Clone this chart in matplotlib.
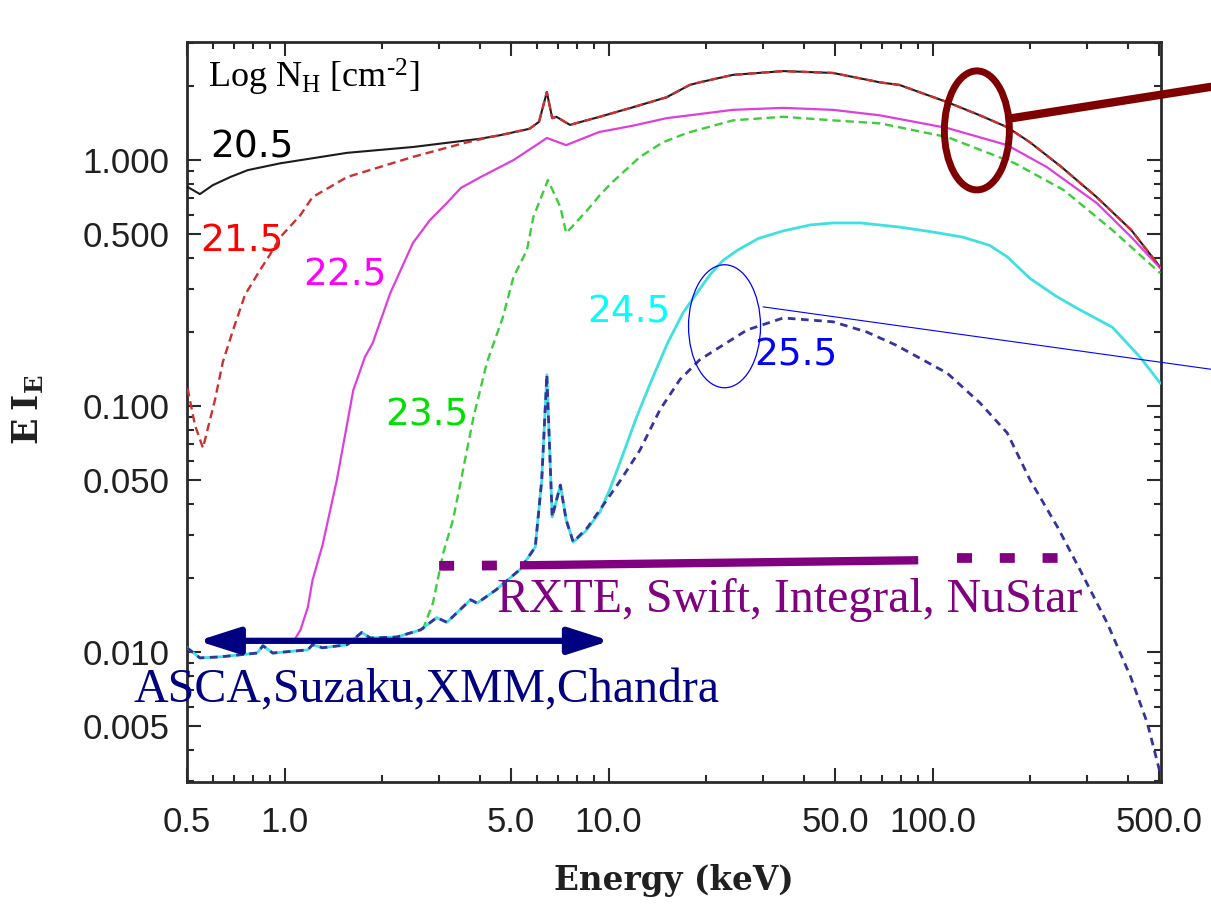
import matplotlib
matplotlib.use("Agg")
import matplotlib.pyplot as plt
from matplotlib.patches import Ellipse, ConnectionPatch
from matplotlib.transforms import ScaledTranslation
from matplotlib.ticker import FixedLocator, FixedFormatter, LogLocator, NullFormatter

plt.rcParams['mathtext.fontset'] = 'custom'
plt.rcParams['mathtext.rm'] = 'Liberation Serif'
plt.rcParams['mathtext.it'] = 'Liberation Serif:italic'
plt.rcParams['mathtext.bf'] = 'DejaVu Serif:bold'
plt.rcParams['lines.scale_dashes'] = False

# ---- model spectra, E*I_E versus energy (keV) for several column densities ----
E_205 = [0.5, 0.548, 0.60, 0.68, 0.77, 0.97, 1.56, 2.49, 4.0, 4.6, 5.7, 6.1, 6.45, 6.7,
         6.9, 7.6, 9.4, 11.9, 15.1, 17.8, 19.1, 24.2, 34.6, 49.3, 68.8, 79, 111, 140,
         170, 200, 250, 321, 410, 504]
I_205 = [0.78, 0.727, 0.79, 0.853, 0.91, 0.97, 1.07, 1.13, 1.22, 1.26, 1.34, 1.43, 1.89,
         1.48, 1.50, 1.39, 1.50, 1.64, 1.80, 2.02, 2.07, 2.22, 2.30, 2.26, 2.07, 2.02,
         1.72, 1.52, 1.36, 1.18, 0.937, 0.707, 0.52, 0.367]

E_215 = [0.502, 0.529, 0.56, 0.61, 0.645, 0.694, 0.755, 0.84, 0.90, 0.97, 1.12, 1.22,
         1.56, 2.49, 3.56, 4.3, 4.6, 5.7, 6.1, 6.45, 6.7, 6.9, 7.6, 9.4, 11.9, 15.1, 17.8,
         19.1, 24.2, 34.6, 49.3, 68.8, 79, 111, 140, 170, 200, 250, 321, 410, 504]
I_215 = [0.118, 0.0837, 0.0675, 0.106, 0.151, 0.204, 0.283, 0.357, 0.411, 0.486, 0.598,
         0.707, 0.853, 1.03, 1.17, 1.24, 1.26, 1.34, 1.43, 1.89, 1.48, 1.50, 1.39, 1.50,
         1.64, 1.80, 2.02, 2.07, 2.22, 2.30, 2.26, 2.07, 2.02, 1.72, 1.52, 1.36, 1.18,
         0.937, 0.707, 0.52, 0.367]

E_225 = [1.06, 1.12, 1.18, 1.22, 1.31, 1.45, 1.63, 1.77, 1.87, 2.12, 2.49, 2.81, 3.17,
         3.5, 4.03, 5.09, 6.1, 6.45, 7.4, 9.35, 11.9, 15.1, 24.2, 34.6, 49.3, 68.8, 111,
         170, 225, 321, 410, 504]
I_225 = [0.0109, 0.0123, 0.0152, 0.0196, 0.0272, 0.050, 0.116, 0.158, 0.180, 0.288,
         0.46, 0.57, 0.669, 0.77, 0.853, 1.0, 1.17, 1.23, 1.15, 1.30, 1.38, 1.48, 1.60,
         1.63, 1.60, 1.52, 1.35, 1.15, 0.937, 0.669, 0.487, 0.364]

E_235 = [2.67, 2.87, 3.09, 3.31, 3.49, 3.83, 4.21, 4.72, 5.09, 5.6, 5.86, 6.5, 7.1, 7.4,
         8.6, 9.4, 10.2, 12.5, 14.7, 17.5, 24.2, 34.6, 49.3, 68.8, 111, 179, 254, 359,
         504]
I_235 = [0.0123, 0.0158, 0.0253, 0.0344, 0.0486, 0.090, 0.150, 0.230, 0.335, 0.431,
         0.587, 0.829, 0.644, 0.505, 0.626, 0.72, 0.806, 1.03, 1.18, 1.29, 1.45, 1.50,
         1.45, 1.41, 1.24, 0.972, 0.755, 0.519, 0.347]

# scattered component shared by the two Compton-thick models below ~8 keV
E_thick_lo = [0.5, 0.548, 0.632, 0.823, 0.858, 0.92, 1.18, 1.22, 1.31, 1.56, 1.73, 1.84,
              2.22, 2.63, 2.95, 3.17, 3.75, 3.93, 4.5, 5.32, 5.94, 6.22, 6.45, 6.7, 7.1,
              7.4, 7.78]
I_thick_lo = [0.0104, 0.00946, 0.00955, 0.0099, 0.0106, 0.0099, 0.0102, 0.0107, 0.0104,
              0.0107, 0.0120, 0.0114, 0.0115, 0.0123, 0.0138, 0.0132, 0.0163, 0.0158,
              0.0179, 0.0216, 0.0267, 0.050, 0.134, 0.0354, 0.0477, 0.0344, 0.028]

E_245_hi = [8.5, 9.4, 10.1, 11.0, 12.2, 13.5, 15.2, 17.0, 18.8, 20.5, 22.5, 25, 29, 34.6,
            42, 49.3, 60, 79, 100, 124, 150, 170, 200, 240, 285, 359, 437, 504]
I_245_hi = [0.031, 0.037, 0.046, 0.062, 0.090, 0.125, 0.18, 0.24, 0.29, 0.34, 0.39,
            0.43, 0.48, 0.515, 0.545, 0.555, 0.555, 0.534, 0.51, 0.486, 0.45, 0.404,
            0.33, 0.28, 0.246, 0.209, 0.158, 0.124]

E_255_hi = [8.6, 9.4, 10.9, 12.5, 14.4, 16.6, 19.1, 22.1, 26.8, 34.6, 49.3, 62.6, 77,
            111, 140, 170, 200, 243, 285, 346, 409, 460, 504]
I_255_hi = [0.032, 0.0378, 0.050, 0.0662, 0.0964, 0.128, 0.154, 0.174, 0.204, 0.228,
            0.220, 0.200, 0.177, 0.136, 0.103, 0.0777, 0.050, 0.0322, 0.0216, 0.0131,
            0.0079, 0.00514, 0.00322]

# instrument energy coverage (keV)
soft_band = (0.54, 10.1)
hard_band_core = (5.33, 90.3)
hard_band_lo = (3.0, 5.33)
hard_band_hi = (119.0, 247.0)

x_ticks = [0.5, 1.0, 5.0, 10.0, 50.0, 100.0, 500.0]
x_ticklabels = ['0.5', '1.0', '5.0', '10.0', '50.0', '100.0', '500.0']
y_ticks = [0.005, 0.01, 0.05, 0.1, 0.5, 1.0]
y_ticklabels = ['0.005', '0.010', '0.050', '0.100', '0.500', '1.000']

W, H = 1211, 914
fig = plt.figure(figsize=(W / 100, H / 100), dpi=100)
ax = fig.add_axes([187 / W, 132 / H, 974 / W, 740 / H])
ax.set_xscale('log')
ax.set_yscale('log')

# curves
ax.plot(E_205, I_205, color='#1c1c1c', lw=1.5, zorder=3)
ax.plot(E_215, I_215, color='#cc3030', lw=1.7, dashes=(6, 3.5), zorder=4)
ax.plot(E_225, I_225, color='#dd3fdd', lw=1.6, zorder=3)
ax.plot(E_235, I_235, color='#3ccc3c', lw=1.7, dashes=(6, 3.5), zorder=3)
ax.plot(E_thick_lo + E_245_hi, I_thick_lo + I_245_hi, color='#3fe0e0', lw=2.0, zorder=3)
ax.plot(E_thick_lo + E_255_hi, I_thick_lo + I_255_hi, color='#34349c', lw=2.0,
        dashes=(5.5, 4), zorder=4)

# column density labels
serif = 'Liberation Serif'
ax.text(0.581, 1.96, r'Log N$_{\mathrm{H}}$ [cm$^{\text{-2}}$]', fontsize=26,
        family=serif, color='black', va='baseline', ha='left')
num_kw = dict(fontsize=27, family='DejaVu Sans', va='baseline', ha='left')
ax.text(0.589, 1.02, '20.5', color='black', **num_kw)
ax.text(0.548, 0.423, '21.5', color='#ff0000', **num_kw)
ax.text(1.14, 0.310, '22.5', color='#ff00ff', **num_kw)
ax.text(2.04, 0.0837, '23.5', color='#00e000', **num_kw)
ax.text(8.58, 0.219, '24.5', color='#00ffff', **num_kw)
ax.text(28.1, 0.1455, '25.5', color='#0000ff', **num_kw)

# instrument coverage
purple = '#800080'
ax.plot(hard_band_core, (0.0225, 0.0236), color=purple, lw=6, solid_capstyle='butt', zorder=5)
ax.plot(hard_band_lo, (0.0224, 0.0225), color=purple, lw=7, dashes=(10.8, 20),
        dash_capstyle='butt', zorder=5)
ax.plot(hard_band_hi, (0.0240, 0.0240), color=purple, lw=7, dashes=(10.8, 20),
        dash_capstyle='butt', zorder=5)
ax.text(4.53, 0.01455, 'RXTE, Swift, Integral, NuStar', fontsize=34.5, family=serif,
        color=purple, va='baseline', ha='left')

navy = '#000080'
ax.annotate('', xy=(soft_band[1], 0.0111), xytext=(soft_band[0], 0.0111),
            arrowprops=dict(arrowstyle='<|-|>,head_length=25,head_width=8',
                            mutation_scale=1, color=navy, lw=4.5,
                            shrinkA=0, shrinkB=0), zorder=6)
ax.text(0.341, 0.00626, 'ASCA,Suzaku,XMM,Chandra', fontsize=34.5, family=serif,
        color=navy, va='baseline', ha='left', clip_on=False)

# axes and ticks
ax.set_xlim(0.5, 507)
ax.set_ylim(0.00296, 3.02)
ax.xaxis.set_major_locator(FixedLocator(x_ticks))
ax.xaxis.set_major_formatter(FixedFormatter(x_ticklabels))
ax.yaxis.set_major_locator(FixedLocator(y_ticks))
ax.yaxis.set_major_formatter(FixedFormatter(y_ticklabels))
ax.xaxis.set_minor_locator(LogLocator(base=10, subs=range(2, 10), numticks=20))
ax.yaxis.set_minor_locator(LogLocator(base=10, subs=range(2, 10), numticks=20))
ax.xaxis.set_minor_formatter(NullFormatter())
ax.yaxis.set_minor_formatter(NullFormatter())
ax.tick_params(which='both', direction='in', top=True, right=True,
               color='#2a2a2a', width=1.5)
ax.tick_params(which='major', length=10)
ax.tick_params(which='minor', length=5)
ax.tick_params(axis='x', which='major', pad=17, labelsize=25, labelcolor='#202020')
ax.tick_params(axis='y', which='major', pad=12.5, labelsize=25, labelcolor='#202020')
for lab in ax.get_xticklabels() + ax.get_yticklabels():
    lab.set_family('Liberation Sans')
for sp in ax.spines.values():
    sp.set_linewidth(2.0)
    sp.set_color('#2a2a2a')

fig.text(674 / W, (H - 890) / H, 'Energy (keV)', fontsize=23.5, family='DejaVu Serif',
         weight='bold', color='#202020', ha='center', va='baseline')
fig.text(28 / W, (H - 410) / H, r'$\mathbf{E\ I_E}$', fontsize=25, color='#202020',
         rotation=90, ha='center', va='center')

# highlight rings with pointer lines
maroon = '#7f0000'
ring_hi = Ellipse((0, 0), 0.65, 1.19, fill=False, ec=maroon, lw=5,
                  transform=fig.dpi_scale_trans + ScaledTranslation(137, 1.32, ax.transData))
fig.add_artist(ring_hi)
fig.add_artist(ConnectionPatch(xyA=(176, 1.48), coordsA=ax.transData,
                               xyB=(1.0, 0.905), coordsB=fig.transFigure,
                               color=maroon, lw=6))

ring_lo = Ellipse((0, 0), 0.72, 1.23, fill=False, ec='#0000ff', lw=0.9,
                  transform=fig.dpi_scale_trans + ScaledTranslation(22.8, 0.211, ax.transData))
fig.add_artist(ring_lo)
fig.add_artist(ConnectionPatch(xyA=(30, 0.253), coordsA=ax.transData,
                               xyB=(1.0, 0.596), coordsB=fig.transFigure,
                               color='#0000ff', lw=0.8))

fig.savefig('out.png', dpi=100, facecolor='white')
